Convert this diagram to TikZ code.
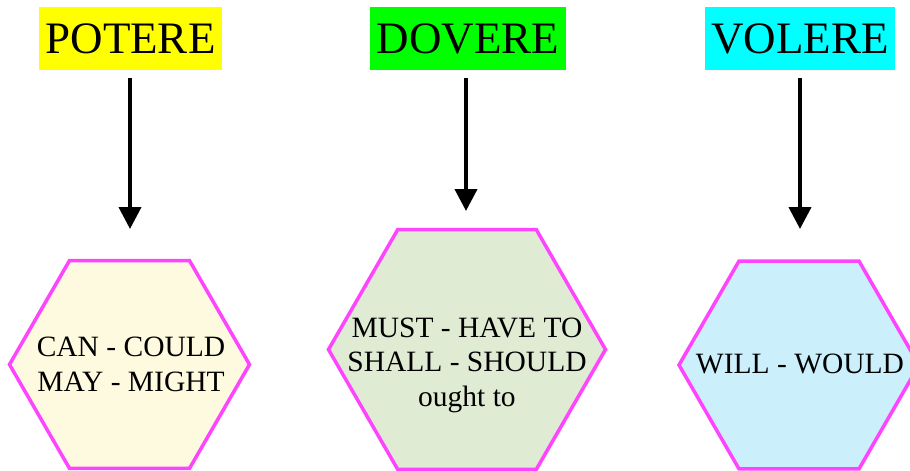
\documentclass[tikz,border=0pt]{standalone}
\usepackage{fontspec}
\setmainfont{Liberation Serif}
\usetikzlibrary{shapes.geometric,arrows.meta}
\definecolor{hexline}{RGB}{255,68,255}
\definecolor{fillY}{RGB}{254,250,223}
\definecolor{fillG}{RGB}{224,235,211}
\definecolor{fillB}{RGB}{204,239,252}
\definecolor{titY}{RGB}{255,255,0}
\definecolor{titG}{RGB}{0,255,0}
\definecolor{titC}{RGB}{0,255,255}
\begin{document}
\begin{tikzpicture}[x=1pt,y=-1pt,
  title/.style={inner sep=0pt,outer sep=0pt,minimum height=63pt,font=\fontsize{45}{54}\selectfont},
  hexa/.style={regular polygon,regular polygon sides=6,draw=hexline,line width=3.5pt,inner sep=0pt,outer sep=0pt},
  hextext/.style={align=center,inner sep=0pt,font=\fontsize{29.5}{34.5}\selectfont},
  arr/.style={line width=4pt,-{Triangle[width=22pt,length=22pt]},shorten <=8pt}]
\useasboundingbox (0,0) rectangle (910,471);
% titles
\node[title,fill=titY,minimum width=183pt] (potere) at (130.5,38.5) {POTERE};
\node[title,fill=titG,minimum width=196pt] (dovere) at (468,38.5) {DOVERE};
\node[title,fill=titC,minimum width=190pt] (volere) at (800,38.5) {VOLERE};
% arrow end points
\coordinate (e1) at (130,229);
\coordinate (e2) at (466,211);
\coordinate (e3) at (800,229);
\draw[arr] (potere.south -| e1) -- (e1);
\draw[arr] (dovere.south -| e2) -- (e2);
\draw[arr] (volere.south -| e3) -- (e3);
% hexagons
\node[hexa,fill=fillY,minimum size=240pt] (h1) at (129.5,364.5) {};
\node[hexa,fill=fillG,minimum size=277pt] (h2) at (467,349.5) {};
\node[hexa,fill=fillB,minimum size=240pt] (h3) at (799,365) {};
% texts
\node[hextext] (t1) at (131,364.5) {CAN - COULD\\MAY - MIGHT};
\node[hextext] (t2) at (467,365) {MUST - HAVE TO\\SHALL - SHOULD\\ought to};
\node[hextext] (t3) at (800,363.5) {WILL - WOULD};
\end{tikzpicture}
\end{document}
